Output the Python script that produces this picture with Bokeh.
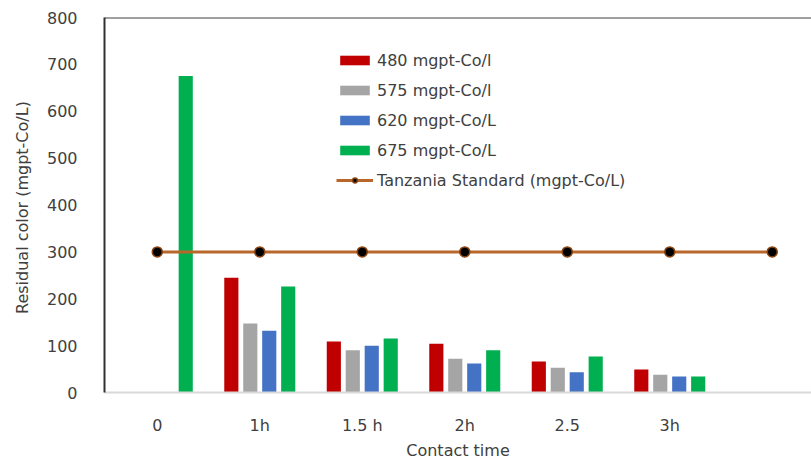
from bokeh.plotting import figure
from bokeh.models import Range1d, FixedTicker, Legend, LegendItem
from bokeh.embed import file_html
from bokeh.resources import INLINE

categories = ["0", "1h", "1.5 h", "2h", "2.5", "3h", ""]
s480 = [None, 245, 109, 104, 66, 49]
s575 = [None, 147, 90, 72, 53, 38]
s620 = [None, 132, 100, 62, 43, 34]
s675 = [675, 226, 115, 90, 77, 34]
standard = [300, 300, 300, 300, 300, 300, 300]
series_names = ["480 mgpt-Co/l", "575 mgpt-Co/l", "620 mgpt-Co/L", "675 mgpt-Co/L"]
line_name = "Tanzania Standard (mgpt-Co/L)"
colors = ["#C00000", "#A5A5A5", "#4472C4", "#00B050"]
yticks = [0, 100, 200, 300, 400, 500, 600, 700, 800]

FONT = "DejaVu Sans"
X0, X1 = -0.515, 6.383

p = figure(output_backend="svg", toolbar_location=None,
           width=811, height=462, frame_width=707, frame_height=375,
           min_border_left=104, min_border_top=17, min_border_right=0, min_border_bottom=70,
           x_range=Range1d(X0, X1), y_range=Range1d(0, 800))
p.outline_line_color = None
p.xgrid.visible = False
p.ygrid.visible = False

items = []
offsets = [-1.5, -0.5, 0.5, 1.5]
step = 0.185
for name, vals, col, off in zip(series_names, [s480, s575, s620, s675], colors, offsets):
    xs, tops = [], []
    for i, v in enumerate(vals):
        if v is not None:
            xs.append(i + off * step)
            tops.append(v)
    r = p.vbar(x=xs, top=tops, width=0.138, bottom=0, fill_color=col, line_color=None)
    items.append(LegendItem(label=name, renderers=[r]))

xs_line = list(range(len(categories)))
rl = p.line(xs_line, standard, line_color="#B8662A", line_width=3)
rs = p.scatter(xs_line, standard, size=10, fill_color="black", line_color="#8B4513", line_width=1.5)
items.append(LegendItem(label=line_name, renderers=[rl, rs]))

# top border line
p.line([X0, X1], [800, 800], line_color="#404040", line_width=2)

legend = Legend(items=items, location=(232, 202), orientation="vertical")
legend.background_fill_alpha = 0
legend.border_line_color = None
legend.padding = 0
legend.margin = 0
legend.spacing = 10
legend.glyph_width = 37
legend.glyph_height = 12
legend.label_height = 20
legend.label_standoff = 4
legend.label_text_font = FONT
legend.label_text_font_size = "16px"
legend.label_text_color = "#404040"
p.add_layout(legend, "center")

# axes
p.xaxis.ticker = FixedTicker(ticks=list(range(len(categories))))
p.xaxis.major_label_overrides = {i: c for i, c in enumerate(categories)}
p.xaxis.axis_line_color = "#D9D9D9"
p.xaxis.axis_line_width = 2
p.xaxis.major_tick_line_color = None
p.xaxis.minor_tick_line_color = None
p.xaxis.major_label_standoff = 17
p.xaxis.major_label_text_font = FONT
p.xaxis.major_label_text_font_size = "16px"
p.xaxis.major_label_text_color = "#404040"
p.xaxis.axis_label = "Contact time"
p.xaxis.axis_label_standoff = 3
p.xaxis.axis_label_text_font = FONT
p.xaxis.axis_label_text_font_size = "16px"
p.xaxis.axis_label_text_font_style = "normal"
p.xaxis.axis_label_text_color = "#404040"

p.yaxis.ticker = FixedTicker(ticks=yticks)
p.yaxis.axis_line_color = "#303030"
p.yaxis.axis_line_width = 2
p.yaxis.major_tick_line_color = None
p.yaxis.minor_tick_line_color = None
p.yaxis.major_label_standoff = 21
p.yaxis.major_label_text_font = FONT
p.yaxis.major_label_text_font_size = "16px"
p.yaxis.major_label_text_color = "#404040"
p.yaxis.axis_label = "Residual color  (mgpt-Co/L)"
p.yaxis.axis_label_standoff = 12
p.yaxis.axis_label_text_font = FONT
p.yaxis.axis_label_text_font_size = "16px"
p.yaxis.axis_label_text_font_style = "normal"
p.yaxis.axis_label_text_color = "#404040"

open("out.html", "w").write(file_html(p, INLINE))
